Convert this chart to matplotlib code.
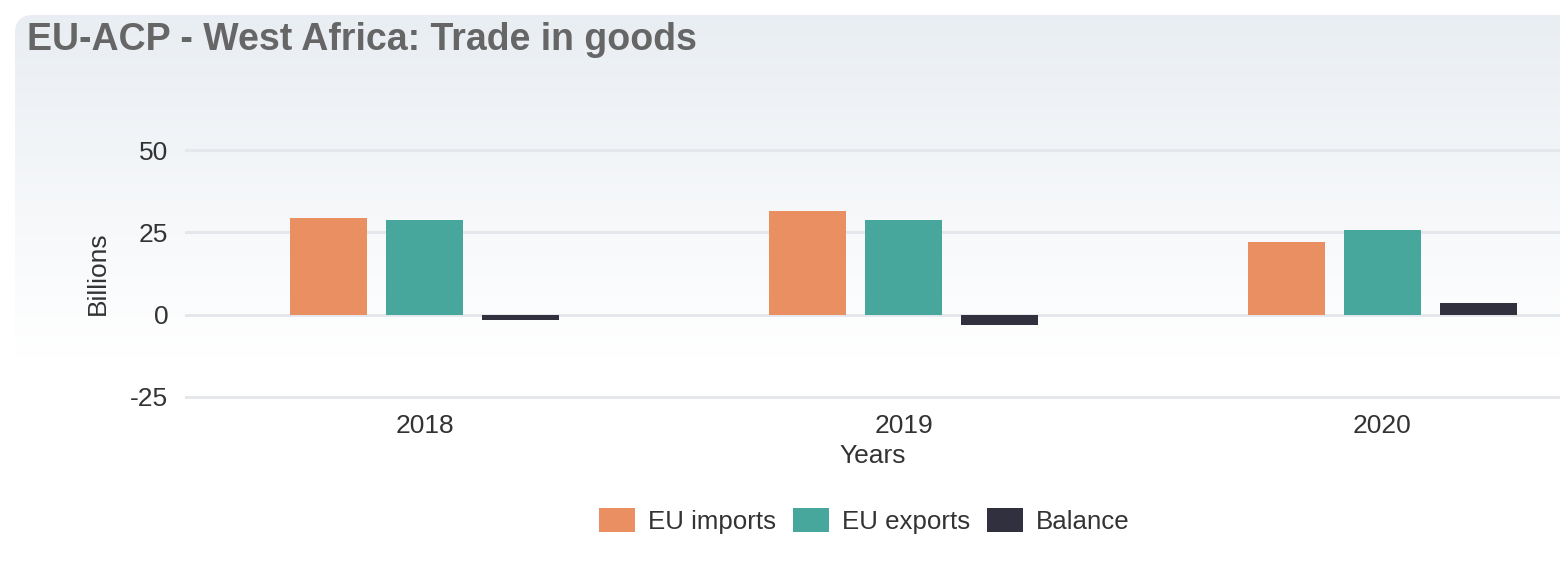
import numpy as np
import matplotlib.pyplot as plt
from matplotlib.patches import Patch, FancyBboxPatch

years = ['2018', '2019', '2020']
eu_imports = [29.3, 31.5, 22.2]
eu_exports = [28.7, 28.7, 25.7]
balance = [-1.5, -3.0, 3.5]

series_names = ['EU imports', 'EU exports', 'Balance']
colors = ['#e98f62', '#48a79c', '#31303f']

plt.rcParams['font.family'] = ['Liberation Sans', 'DejaVu Sans']

W, H = 1560, 566
fig = plt.figure(figsize=(W / 100, H / 100), dpi=100)

# gradient background with rounded top-left corner
bg = fig.add_axes([0, 0, 1, 1])
bg.set_axis_off()
bg.set_xlim(0, W)
bg.set_ylim(0, H)
grad = np.linspace(0, 1, 256).reshape(-1, 1)
top = np.array([0.914, 0.933, 0.953])
bot = np.array([1.0, 1.0, 1.0])
t = np.clip(grad / 0.62, 0, 1)
img = (top * (1 - t) + bot * t).reshape(256, 1, 3)
im = bg.imshow(img, extent=[15, W + 20, 0, H - 15], aspect='auto', origin='upper')
clip = FancyBboxPatch((15, -40), W + 40, H - 15 + 40, boxstyle='round,pad=0,rounding_size=18',
                      transform=bg.transData, facecolor='none', edgecolor='none')
bg.add_patch(clip)
im.set_clip_path(clip)

fig.text(27 / W, 1 - 40 / H, 'EU-ACP - West Africa: Trade in goods', fontsize=27,
         fontweight='bold', color='#666666', va='center', ha='left')

# plot area: -25 at 397px, 50 at 150px
ppu = (397 - 150) / 75
y0, y1 = -26, 51
bottom_px = 397 + (y0 + 25) * -ppu
top_px = 150 - (y1 - 50) * ppu
cat_px = 479
left_px = 185
xmin = -0.5
xmax = xmin + (W - left_px) / cat_px
ax = fig.add_axes([left_px / W, 1 - bottom_px / H, (W - left_px) / W, (bottom_px - top_px) / H])
ax.patch.set_alpha(0)

x = np.arange(len(years))
width = 0.16
offset = 0.2
for i, (vals, c) in enumerate(zip([eu_imports, eu_exports, balance], colors)):
    ax.bar(x + (i - 1) * offset, vals, width, color=c, zorder=3)

ax.set_xlim(xmin, xmax)
ax.set_ylim(y0, y1)
ax.set_yticks([-25, 0, 25, 50])
ax.set_yticklabels(['-25', '0', '25', '50'])
ax.set_xticks(x)
ax.set_xticklabels(years)
ax.grid(axis='y', color='#e3e6ea', linewidth=2, zorder=0)
for s in ax.spines.values():
    s.set_visible(False)
ax.tick_params(axis='both', length=0, labelsize=19, colors='#333333')
ax.tick_params(axis='y', pad=12)
ax.tick_params(axis='x', pad=10)
ax.set_ylabel('Billions', fontsize=19, color='#333333', labelpad=15)
ax.set_xlabel('Years', fontsize=19, color='#333333', labelpad=4)

handles = [Patch(facecolor=c, edgecolor='none') for c in colors]
fig.legend(handles, series_names, loc='center', bbox_to_anchor=(864 / W, 1 - 521 / H),
           ncol=3, frameon=False, fontsize=18.6, labelcolor='#333333',
           handlelength=1.4, handleheight=1.05, handletextpad=0.5, columnspacing=0.65)

fig.savefig('out.png', dpi=100)
